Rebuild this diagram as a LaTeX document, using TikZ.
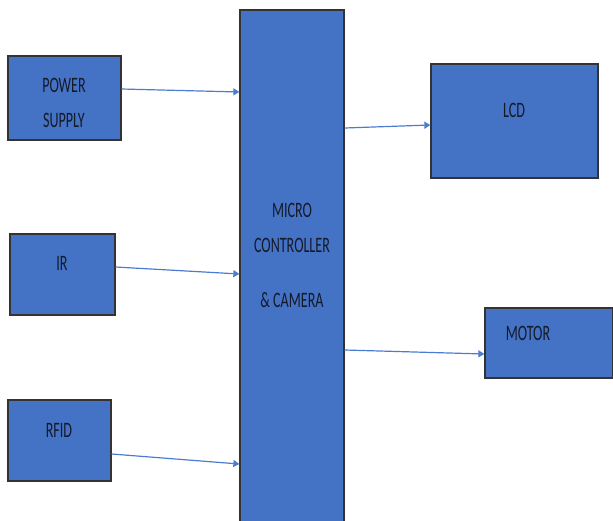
\documentclass[tikz,border=0pt]{standalone}
\usepackage{fontspec}
\setmainfont{Carlito}
\usepackage{graphicx}
\usetikzlibrary{arrows.meta}
\definecolor{blkfill}{HTML}{4472C4}
\definecolor{arrcol}{HTML}{4A7DD2}
\definecolor{txtcol}{HTML}{151A2A}
\newcommand{\cnd}[1]{\scalebox{0.64}[1]{#1}}
\tikzset{
  blk/.style={draw=black!80, line width=1.3pt, fill=blkfill, inner sep=0pt},
  txt/.style={text=txtcol, font=\fontsize{22}{22}\selectfont, inner sep=0pt, align=center},
  arr/.style={draw=arrcol, line width=1.2pt, -{Triangle[length=6pt,width=7pt]}}
}
\begin{document}
\begin{tikzpicture}[x=1pt,y=-1pt]
  \useasboundingbox (0,0) rectangle (613,520);
%Bloecke
  \node[blk, minimum width=113pt, minimum height=84pt] (ps) at (64.5,98) {};
  \node[blk, minimum width=105pt, minimum height=81pt] (ir) at (62.5,274.5) {};
  \node[blk, minimum width=103pt, minimum height=81pt] (rfid) at (59.5,440.5) {};
  \node[blk, minimum width=104pt, minimum height=518pt] (micro) at (292,269) {};
  \node[blk, minimum width=167pt, minimum height=114pt] (lcd) at (514.5,121) {};
  \node[blk, minimum width=128pt, minimum height=70pt] (motor) at (549,343) {};
%Beschriftung
  \node[txt] (pstxt) at (64,85) {\cnd{POWER}};
  \node[txt] (pstxt2) at (64,120) {\cnd{SUPPLY}};
  \node[txt] (irtxt) at (62,263) {\cnd{IR}};
  \node[txt] (rfidtxt) at (59,430) {\cnd{RFID}};
  \node[txt] (microtxt) at (292,210) {\cnd{MICRO}};
  \node[txt] (microtxt2) at (292,245) {\cnd{CONTROLLER}};
  \node[txt] (microtxt3) at (292,300) {\cnd{\& CAMERA}};
  \node[txt] (lcdtxt) at (514,110) {\cnd{LCD}};
  \node[txt] (motortxt) at (528,333) {\cnd{MOTOR}};
%Pfeile
  \draw[arr] ([yshift=9pt]ps.east) -- (micro.west |- 0,92);
  \draw[arr] ([yshift=7.5pt]ir.east) -- (micro.west |- 0,274);
  \draw[arr] ([yshift=-13.5pt]rfid.east) -- (micro.west |- 0,464);
  \draw[arr] (micro.east |- 0,128) -- ([yshift=-4pt]lcd.west);
  \draw[arr] (micro.east |- 0,350) -- ([yshift=-11pt]motor.west);
\end{tikzpicture}
\end{document}
